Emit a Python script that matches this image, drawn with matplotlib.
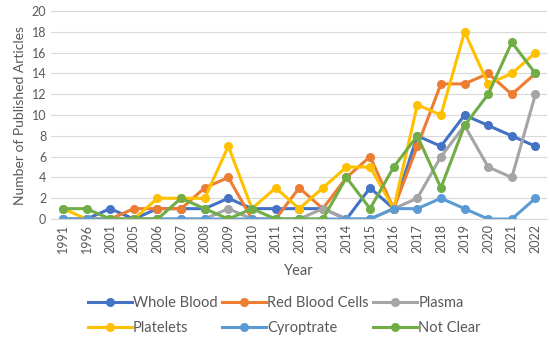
import numpy as np
import matplotlib.pyplot as plt

plt.rcParams['font.family'] = ['Lato', 'DejaVu Sans']

years = ['1991', '1996', '2001', '2005', '2006', '2007', '2008', '2009', '2010', '2011', '2012',
         '2013', '2014', '2015', '2016', '2017', '2018', '2019', '2020', '2021', '2022']

whole_blood = [0, 0, 1, 0, 1, 1, 1, 2, 1, 1, 1, 1, 0, 3, 1, 8, 7, 10, 9, 8, 7]
red_blood_cells = [0, 0, 0, 1, 1, 1, 3, 4, 0, 0, 3, 1, 4, 6, 1, 7, 13, 13, 14, 12, 14]
plasma = [0, 0, 0, 0, 0, 0, 0, 1, 0, 0, 0, 1, 0, 0, 1, 2, 6, 9, 5, 4, 12]
platelets = [1, 0, 0, 0, 2, 2, 2, 7, 1, 3, 1, 3, 5, 5, 1, 11, 10, 18, 13, 14, 16]
cyroptrate = [0, 0, 0, 0, 0, 0, 0, 0, 0, 0, 0, 0, 0, 0, 1, 1, 2, 1, 0, 0, 2]
not_clear = [1, 1, 0, 0, 0, 2, 1, 0, 1, 0, 0, 0, 4, 1, 5, 8, 3, 9, 12, 17, 14]

series = [
    ('Whole Blood', whole_blood, '#4472C4'),
    ('Red Blood Cells', red_blood_cells, '#ED7D31'),
    ('Plasma', plasma, '#A5A5A5'),
    ('Platelets', platelets, '#FFC000'),
    ('Cyroptrate', cyroptrate, '#5B9BD5'),
    ('Not Clear', not_clear, '#70AD47'),
]

fig = plt.figure(figsize=(5.5, 3.37), dpi=100)
ax = fig.add_axes((0.093, 0.35, 0.902, 0.617))

x = np.arange(len(years))
lines = []
for name, vals, c in series:
    ln, = ax.plot(x, vals, color=c, lw=2.2, marker='o', ms=5.5, label=name)
    lines.append(ln)

ax.set_xlim(-0.5, len(years) - 0.5)
ax.set_ylim(0, 20)
ax.set_yticks(range(0, 21, 2))
ax.set_xticks(x)
ax.set_xticklabels(years, rotation=90)
ax.tick_params(length=0, labelsize=9, colors='#595959')
ax.grid(axis='y', color='#D9D9D9', lw=0.8)
ax.set_axisbelow(True)
for s in ['top', 'right', 'left']:
    ax.spines[s].set_visible(False)
ax.spines['bottom'].set_color('#D9D9D9')

ax.set_xlabel('Year', fontsize=10.5, color='#595959', labelpad=8)
ax.set_ylabel('Number of Published Articles', fontsize=10, color='#595959', labelpad=4)

# legend fills by column, so reorder to get rows like the original
order = [0, 3, 1, 4, 2, 5]
fig.legend([lines[i] for i in order], [series[i][0] for i in order],
           loc='lower center', bbox_to_anchor=(0.517, -0.033), ncol=3, frameon=False,
           fontsize=10.5, labelcolor='#595959', handlelength=3, columnspacing=0.3,
           handletextpad=0.1, labelspacing=0.75)

fig.savefig('out.png', dpi=100)
